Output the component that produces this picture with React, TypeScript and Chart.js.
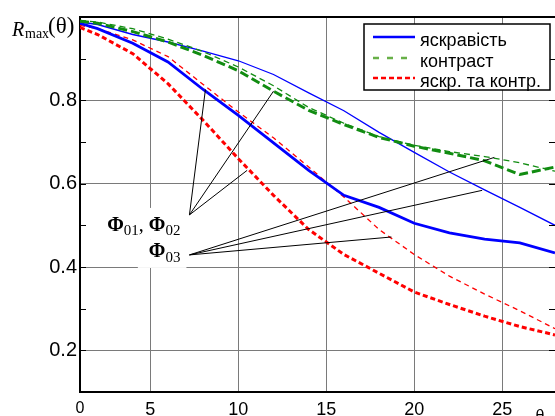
import { useEffect, useRef } from 'react';
import { Chart, registerables } from 'chart.js';

Chart.register(...registerables);

// ---- data ----
const theta = [1, 2, 4, 6, 8, 10, 12, 14, 16, 18, 20, 22, 24, 26, 28];
const brightThick = [0.985, 0.972, 0.937, 0.892, 0.826, 0.764, 0.698, 0.632, 0.572, 0.543, 0.505, 0.482, 0.467, 0.458, 0.434];
const brightThin = [0.988, 0.982, 0.958, 0.94, 0.918, 0.895, 0.862, 0.818, 0.775, 0.723, 0.675, 0.628, 0.585, 0.543, 0.5];
const contrastThick = [0.99, 0.985, 0.965, 0.94, 0.908, 0.871, 0.822, 0.776, 0.742, 0.711, 0.69, 0.673, 0.655, 0.622, 0.64];
const contrastThin = [0.992, 0.988, 0.972, 0.947, 0.917, 0.88, 0.835, 0.783, 0.745, 0.713, 0.692, 0.677, 0.665, 0.65, 0.63];
const bothThick = [0.975, 0.958, 0.912, 0.84, 0.752, 0.66, 0.572, 0.49, 0.43, 0.385, 0.34, 0.31, 0.282, 0.257, 0.237];
const bothThin = [0.98, 0.972, 0.945, 0.905, 0.838, 0.772, 0.71, 0.64, 0.568, 0.49, 0.43, 0.378, 0.335, 0.295, 0.252];

const xTickValues = [1, 5, 10, 15, 20, 25];
const xTickLabels = ['0', '5', '10', '15', '20', '25'];
const yTickValues = [0.2, 0.4, 0.6, 0.8];
const yTickLabels = ['0.2', '0.4', '0.6', '0.8'];
const yMinorTicks = [0.3, 0.5, 0.7, 0.9];
const legendLabels = ['яскравість', 'контраст', 'яскр. та контр.'];
const xAxisLabel = 'θ';

// annotation anchors in data coordinates (θ, R)
const tip0102: [number, number] = [7.22, 0.525];
const targets0102: [number, number][] = [[8.13, 0.826], [12, 0.822], [10.5, 0.632]];
const tip03: [number, number] = [7.22, 0.429];
const targets03: [number, number][] = [[24.55, 0.663], [23.86, 0.584], [18.7, 0.472]];

const BLUE = '#0000ff';
const GREEN = '#118c11';
const RED = '#ff0000';
const SANS = '"Liberation Sans", Arial, sans-serif';
const SERIF = '"Liberation Serif", "Times New Roman", serif';

const pts = (arr: number[]) => theta.map((t, i) => ({ x: t, y: arr[i] }));

type Part = { t: string; f: string; dy: number };

function drawParts(ctx: CanvasRenderingContext2D, parts: Part[], rightX: number, baseY: number) {
  let total = 0;
  parts.forEach((p) => { ctx.font = p.f; total += ctx.measureText(p.t).width; });
  let x = rightX - total;
  parts.forEach((p) => {
    ctx.font = p.f;
    ctx.fillText(p.t, x, baseY + p.dy);
    x += ctx.measureText(p.t).width;
  });
}

function measureParts(ctx: CanvasRenderingContext2D, parts: Part[]) {
  let total = 0;
  parts.forEach((p) => { ctx.font = p.f; total += ctx.measureText(p.t).width; });
  return total;
}

const decor = {
  id: 'decor',
  beforeDraw(chart: any) {
    const { ctx, width, height } = chart;
    ctx.save();
    ctx.fillStyle = '#fff';
    ctx.fillRect(0, 0, width, height);
    ctx.restore();
  },
  afterDatasetsDraw(chart: any) {
    const { ctx, chartArea: a, scales } = chart;
    const xs = scales.x;
    const ys = scales.y;
    ctx.save();

    // label texts with white backing
    const bold = `bold 20px ${SERIF}`;
    const sub = `15px ${SERIF}`;
    const reg = `20px ${SERIF}`;
    const parts1: Part[] = [
      { t: 'Φ', f: bold, dy: 0 }, { t: '01', f: sub, dy: 4 }, { t: ', ', f: reg, dy: 0 },
      { t: 'Φ', f: bold, dy: 0 }, { t: '02', f: sub, dy: 4 },
    ];
    const parts2: Part[] = [{ t: 'Φ', f: bold, dy: 0 }, { t: '03', f: sub, dy: 5 }];
    const t1x = xs.getPixelForValue(tip0102[0]);
    const t1y = ys.getPixelForValue(tip0102[1]);
    const t2x = xs.getPixelForValue(tip03[0]);
    const t2y = ys.getPixelForValue(tip03[1]);
    const r1 = t1x - 9;
    const r2 = t2x - 9;
    const w1 = measureParts(ctx, parts1);
    const w2 = measureParts(ctx, parts2);
    const b1 = t1y + 16;
    const b2 = t2y + 2;
    ctx.fillStyle = '#fff';
    ctx.fillRect(r1 - w1 - 5, b1 - 23, w1 + 11, 32);
    ctx.fillRect(r2 - w2 - 11, b2 - 17, w2 + 17, 28);
    ctx.fillStyle = '#000';
    ctx.textBaseline = 'alphabetic';
    ctx.textAlign = 'left';
    drawParts(ctx, parts1, r1, b1);
    drawParts(ctx, parts2, r2, b2);

    // leader lines
    ctx.strokeStyle = '#000';
    ctx.lineWidth = 1;
    ctx.setLineDash([]);
    const lead = (tip: [number, number], targets: [number, number][]) => {
      const tx = xs.getPixelForValue(tip[0]);
      const ty = ys.getPixelForValue(tip[1]);
      targets.forEach(([vx, vy]) => {
        ctx.beginPath();
        ctx.moveTo(tx, ty);
        ctx.lineTo(xs.getPixelForValue(vx), ys.getPixelForValue(vy));
        ctx.stroke();
      });
    };
    lead(tip0102, targets0102);
    lead(tip03, targets03);

    // inward ticks
    ctx.lineWidth = 1;
    [...yMinorTicks, ...yTickValues].forEach((v) => {
      const py = Math.round(ys.getPixelForValue(v)) + 0.5;
      ctx.beginPath();
      ctx.moveTo(a.left, py);
      ctx.lineTo(a.left + 6, py);
      ctx.moveTo(a.right, py);
      ctx.lineTo(a.right - 6, py);
      ctx.stroke();
    });

    // top border
    ctx.lineWidth = 2;
    ctx.beginPath();
    ctx.moveTo(a.left - 1, a.top);
    ctx.lineTo(a.right, a.top);
    ctx.stroke();

    // legend
    const lx = 364, ly = 24, lw = 186, lh = 66;
    ctx.fillStyle = '#fff';
    ctx.fillRect(lx, ly, lw, lh);
    ctx.lineWidth = 1.5;
    ctx.strokeStyle = '#000';
    ctx.strokeRect(lx, ly, lw, lh);
    const legendStyles = [
      { color: BLUE, width: 2.5, dash: [] as number[] },
      { color: 'rgb(104,176,72)', width: 2.5, dash: [6, 8] },
      { color: RED, width: 2.5, dash: [5, 3] },
    ];
    const rowsY = [37, 58, 78];
    legendLabels.forEach((label, i) => {
      const st = legendStyles[i];
      ctx.strokeStyle = st.color;
      ctx.lineWidth = st.width;
      ctx.setLineDash(st.dash);
      ctx.beginPath();
      ctx.moveTo(373, rowsY[i]);
      ctx.lineTo(415, rowsY[i]);
      ctx.stroke();
      ctx.setLineDash([]);
      ctx.fillStyle = '#000';
      ctx.font = `18px ${SANS}`;
      ctx.fillText(label, 420, rowsY[i] + 9);
    });

    // y-axis title R_max(θ)
    ctx.fillStyle = '#000';
    ctx.font = `italic 20px ${SERIF}`;
    ctx.fillText('R', 12, 36);
    ctx.font = `14px ${SERIF}`;
    ctx.fillText('max', 25, 38);
    ctx.font = `23px ${SERIF}`;
    ctx.fillText('(θ)', 48, 33);

    // x-axis label θ
    ctx.font = `16px ${SANS}`;
    ctx.textAlign = 'center';
    ctx.fillText(xAxisLabel, 540, 421);

    ctx.restore();
  },
};

const gridColor = '#7a7a7a';

export default function App() {
  const ref = useRef<HTMLCanvasElement>(null);
  useEffect(() => {
    const common = { pointRadius: 0, tension: 0, fill: false };
    const chart = new Chart(ref.current!, {
      type: 'line',
      data: {
        datasets: [
          { ...common, label: legendLabels[1], data: pts(contrastThin), borderColor: GREEN, borderWidth: 1.3, borderDash: [6, 4] },
          { ...common, label: legendLabels[1], data: pts(contrastThick), borderColor: GREEN, borderWidth: 3, borderDash: [9, 4] },
          { ...common, label: legendLabels[0], data: pts(brightThin), borderColor: BLUE, borderWidth: 1.3 },
          { ...common, label: legendLabels[0], data: pts(brightThick), borderColor: BLUE, borderWidth: 2.8 },
          { ...common, label: legendLabels[2], data: pts(bothThin), borderColor: RED, borderWidth: 1.3, borderDash: [5, 4] },
          { ...common, label: legendLabels[2], data: pts(bothThick), borderColor: RED, borderWidth: 3, borderDash: [5, 3] },
        ],
      },
      options: {
        animation: false,
        responsive: false,
        events: [],
        layout: { padding: { top: 17, right: 0, left: 0, bottom: 0 } },
        plugins: { legend: { display: false }, tooltip: { enabled: false }, title: { display: false } },
        scales: {
          x: {
            type: 'linear',
            min: 1,
            max: 28,
            afterBuildTicks: (s: any) => { s.ticks = xTickValues.map((v) => ({ value: v })); },
            afterFit: (s: any) => { s.height = 24; },
            ticks: {
              autoSkip: false,
              maxRotation: 0,
              padding: 7,
              color: '#000',
              font: (c: any) => ({ family: SANS, size: c.tick && c.tick.value === xTickValues[0] ? 16 : 18 }),
              callback: (v: any) => xTickLabels[xTickValues.indexOf(v)] ?? '',
            },
            grid: {
              drawTicks: false,
              lineWidth: 1,
              color: (c: any) => (c.tick && c.tick.value === xTickValues[0] ? 'rgba(0,0,0,0)' : gridColor),
            },
            border: { display: true, color: '#000', width: 2 },
          },
          y: {
            type: 'linear',
            min: 0.1,
            max: 1.0,
            afterBuildTicks: (s: any) => { s.ticks = yTickValues.map((v) => ({ value: v })); },
            afterFit: (s: any) => { s.width = 80; },
            ticks: {
              padding: 3,
              color: '#000',
              font: { family: SANS, size: 20 },
              callback: (v: any) => yTickLabels[yTickValues.indexOf(v)] ?? '',
            },
            grid: { drawTicks: false, lineWidth: 1, color: gridColor },
            border: { display: true, color: '#000', width: 2 },
          },
        },
      },
      plugins: [decor],
    } as any);
    return () => chart.destroy();
  }, []);
  return (
    <div style={{ position: 'absolute', left: 0, top: 0, width: 555, height: 416, background: '#fff' }}>
      <canvas ref={ref} width={555} height={416} style={{ display: 'block', width: 555, height: 416 }} />
    </div>
  );
}
